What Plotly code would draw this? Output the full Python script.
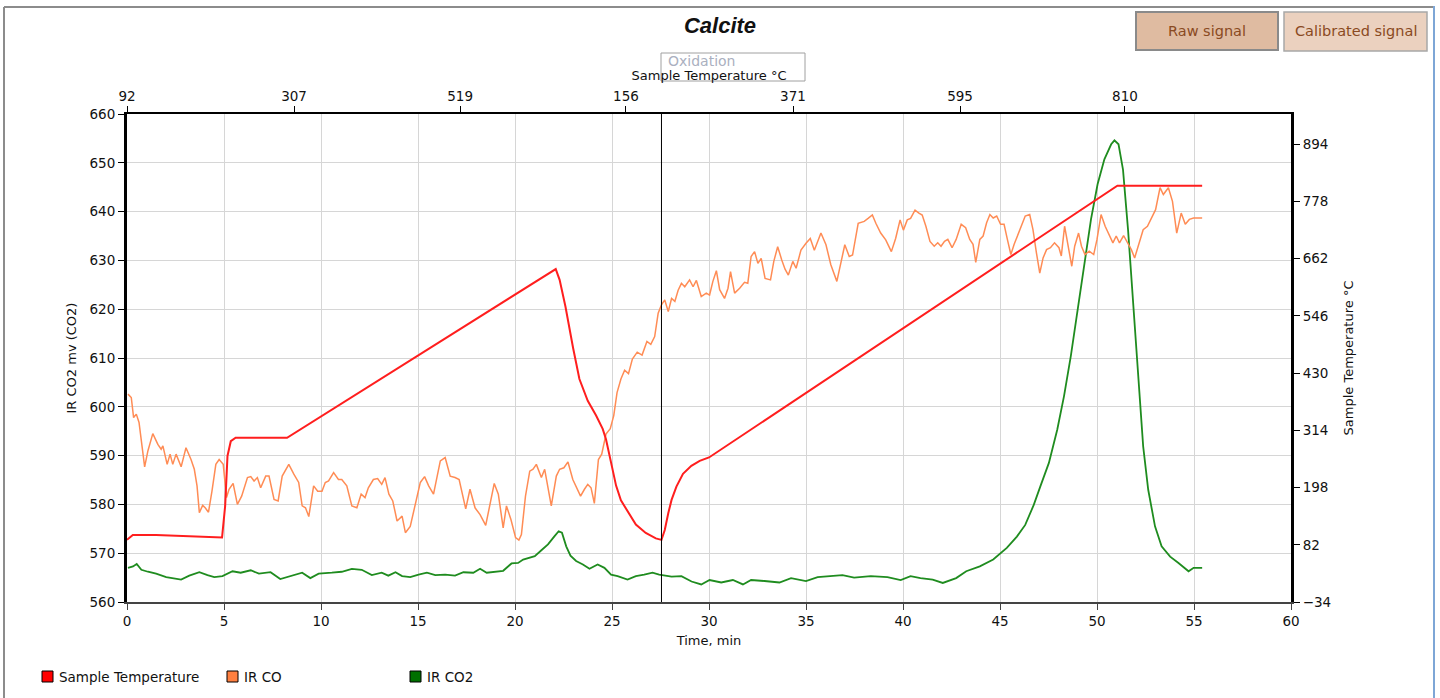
import plotly.graph_objects as go

# ---------------- data ----------------
time_co = [0.05, 0.22, 0.34, 0.48, 0.62, 0.91, 1.08, 1.33, 1.59, 1.76, 1.85, 2.07, 2.22, 2.36, 2.53, 2.79,
           3.04, 3.30, 3.47, 3.61, 3.73, 3.90, 4.03, 4.20, 4.38, 4.58, 4.75, 4.96, 5.13, 5.26, 5.47, 5.69,
           5.91, 6.21, 6.38, 6.55, 6.72, 6.89, 7.15, 7.32, 7.58, 7.79, 8.00, 8.34, 8.60, 8.85, 9.03, 9.20,
           9.37, 9.62, 9.83, 10.05, 10.22, 10.39, 10.65, 10.90, 11.07, 11.33, 11.59, 11.85, 12.07, 12.27,
           12.44, 12.70, 12.92, 13.13, 13.30, 13.50, 13.70, 13.92, 14.18, 14.35, 14.60, 14.86, 15.12, 15.34,
           15.55, 15.80, 16.15, 16.40, 16.66, 16.91, 17.12, 17.46, 17.68, 17.94, 18.20, 18.49, 18.71, 18.93,
           19.14, 19.39, 19.56, 19.79, 20.03, 20.20, 20.33, 20.54, 20.76, 20.93, 21.10, 21.36, 21.53, 21.87,
           22.13, 22.30, 22.52, 22.73, 22.98, 23.20, 23.38, 23.58, 23.75, 23.92, 24.09, 24.30, 24.47, 24.69,
           24.91, 25.09, 25.26, 25.46, 25.65, 25.85, 26.05, 26.30, 26.55, 26.80, 27.00, 27.20, 27.38, 27.55,
           27.72, 27.90, 28.07, 28.24, 28.41, 28.58, 28.75, 29.00, 29.18, 29.35, 29.60, 29.86, 30.03, 30.20,
           30.38, 30.55, 30.80, 30.98, 31.11, 31.32, 31.58, 31.83, 32.00, 32.17, 32.35, 32.52, 32.69, 32.89,
           33.17, 33.34, 33.54, 33.75, 33.92, 34.09, 34.32, 34.49, 34.74, 35.00, 35.22, 35.43, 35.77, 36.03,
           36.28, 36.59, 36.80, 37.00, 37.23, 37.40, 37.69, 38.00, 38.20, 38.42, 38.60, 38.85, 39.11, 39.40,
           39.62, 39.85, 40.02, 40.22, 40.39, 40.62, 40.82, 40.99, 41.18, 41.39, 41.61, 41.79, 41.96, 42.14,
           42.31, 42.53, 42.74, 43.00, 43.23, 43.44, 43.61, 43.75, 43.96, 44.13, 44.31, 44.48, 44.65, 44.83,
           45.03, 45.21, 45.38, 45.56, 45.73, 45.90, 46.13, 46.30, 46.53, 46.70, 46.88, 47.05, 47.22, 47.40,
           47.60, 47.81, 48.04, 48.16, 48.33, 48.51, 48.70, 48.85, 49.05, 49.20, 49.38, 49.60, 49.83, 50.00,
           50.21, 50.42, 50.64, 50.82, 50.99, 51.16, 51.37, 51.60, 51.77, 51.94, 52.15, 52.38, 52.60, 52.81,
           53.02, 53.25, 53.42, 53.68, 53.89, 54.11, 54.34, 54.55, 54.76, 54.98, 55.42]
ir_co = [602.6, 601.9, 597.8, 598.5, 596.8, 587.7, 591.0, 594.5, 592.3, 591.3, 592.0, 588.2, 590.3, 588.2, 590.3, 587.7,
         591.6, 589.2, 587.2, 583.8, 578.3, 579.8, 579.3, 578.4, 582.7, 588.2, 589.2, 588.2, 581.4, 583.1, 584.3, 580.0,
         581.7, 585.5, 585.7, 584.8, 585.5, 583.4, 585.8, 585.8, 581.0, 580.7, 585.8, 588.2, 586.2, 584.5, 579.7, 579.3,
         577.5, 583.8, 582.7, 582.7, 584.5, 584.8, 586.5, 585.1, 585.1, 583.8, 579.7, 579.3, 582.1, 581.4,
         583.4, 585.1, 585.3, 584.1, 585.5, 582.1, 580.7, 576.6, 577.6, 574.2, 575.5, 580.0, 584.5, 585.7,
         583.8, 582.1, 588.9, 589.6, 585.8, 585.5, 585.1, 579.1, 583.1, 579.3, 577.9, 575.7, 580.0, 584.3,
         582.1, 575.2, 579.7, 576.9, 573.2, 572.7, 573.8, 581.7, 586.8, 587.2, 588.2, 585.5, 587.2, 579.7,
         585.8, 587.2, 587.5, 588.7, 585.1, 583.1, 581.7, 583.1, 584.1, 583.4, 580.2, 589.2, 590.3, 594.4,
         595.5, 598.2, 602.9, 605.7, 607.5, 606.8, 609.8, 611.2, 610.6, 613.4, 612.8, 614.4, 619.2, 620.9,
         621.9, 619.5, 622.2, 621.6, 623.9, 625.3, 624.6, 626.0, 624.6, 625.9, 622.6, 623.3, 622.9, 625.7,
         627.9, 624.0, 622.2, 624.3, 627.7, 623.3, 624.3, 625.5, 625.3, 630.8, 631.8, 629.4, 630.4, 626.3,
         626.0, 629.8, 632.8, 630.1, 628.2, 627.0, 629.8, 628.4, 632.1, 633.5, 634.5, 632.1, 635.6, 633.2,
         629.1, 625.7, 629.4, 633.2, 630.8, 631.1, 637.6, 638.0, 638.6, 639.3, 637.6, 635.6, 634.2, 631.8,
         634.5, 638.3, 636.2, 638.3, 638.6, 640.3, 639.7, 639.3, 637.0, 633.9, 632.9, 633.6, 632.9, 633.9,
         634.3, 632.6, 634.3, 637.4, 636.7, 634.3, 633.3, 629.6, 634.3, 635.0, 637.7, 639.4, 638.7, 639.1,
         637.4, 637.4, 634.3, 631.2, 633.3, 635.0, 637.7, 639.1, 639.4, 636.3, 631.5, 627.4, 630.5, 632.2,
         632.6, 633.6, 632.6, 630.9, 637.0, 633.3, 628.8, 632.9, 635.6, 632.9, 631.2, 631.9, 631.2, 634.3,
         639.4, 637.0, 635.0, 633.6, 635.0, 633.6, 635.1, 633.3, 632.2, 630.5, 633.3, 636.3, 637.0, 638.7,
         640.4, 644.9, 643.5, 644.9, 642.1, 635.6, 639.7, 637.4, 638.4, 638.7, 638.7]

time_co2 = [0.05, 0.31, 0.50, 0.74, 1.08, 1.50, 2.02, 2.36, 2.79, 3.21, 3.73, 4.15, 4.50, 4.92, 5.44, 5.86,
            6.38, 6.80, 7.40, 7.90, 8.43, 9.03, 9.45, 9.88, 10.56, 11.07, 11.59, 12.10, 12.62, 13.13, 13.47,
            13.84, 14.18, 14.60, 15.03, 15.46, 15.89, 16.40, 16.91, 17.34, 17.85, 18.20, 18.54, 18.97, 19.39,
            19.82, 20.16, 20.42, 20.68, 21.02, 21.36, 21.70, 22.04, 22.25, 22.42, 22.64, 22.86, 23.15, 23.50,
            23.84, 24.26, 24.61, 24.95, 25.29, 25.80, 26.23, 26.66, 27.09, 27.43, 27.82, 28.07, 28.58, 29.10,
            29.60, 30.03, 30.63, 31.23, 31.75, 32.17, 32.86, 33.63, 34.23, 35.00, 35.60, 36.28, 36.88, 37.48,
            38.34, 39.20, 39.88, 40.39, 40.90, 41.53, 42.05, 42.74, 43.26, 43.96, 44.65, 45.35, 45.87, 46.30,
            46.74, 47.08, 47.52, 47.95, 48.30, 48.65, 48.99, 49.34, 49.69, 50.03, 50.38, 50.73, 50.90, 51.11,
            51.34, 51.60, 51.86, 52.12, 52.38, 52.64, 52.99, 53.33, 53.77, 54.20, 54.72, 54.98, 55.42]
ir_co2 = [567.0, 567.3, 567.8, 566.6, 566.2, 565.8, 565.1, 564.9, 564.6, 565.4, 566.1, 565.5, 565.1, 565.3, 566.3, 566.0,
          566.5, 565.8, 566.1, 564.7, 565.3, 566.0, 564.9, 565.8, 566.0, 566.2, 566.8, 566.6, 565.5, 566.0, 565.4,
          566.1, 565.3, 565.1, 565.6, 566.0, 565.5, 565.6, 565.4, 566.1, 566.0, 566.8, 566.0, 566.2, 566.4,
          567.9, 568.0, 568.7, 569.0, 569.4, 570.6, 571.8, 573.5, 574.5, 574.2, 571.4, 569.5, 568.4, 567.7,
          566.8, 567.7, 567.0, 565.6, 565.3, 564.6, 565.3, 565.6, 566.0, 565.6, 565.3, 565.2, 565.3, 564.2,
          563.6, 564.5, 564.0, 564.5, 563.6, 564.5, 564.3, 564.0, 564.9, 564.3, 565.1, 565.3, 565.5, 565.0,
          565.3, 565.1, 564.5, 565.3, 564.9, 564.6, 563.9, 564.9, 566.3, 567.3, 568.7, 571.1, 573.4, 575.8,
          579.9, 583.7, 588.5, 595.3, 602.2, 610.4, 619.9, 629.5, 638.4, 645.6, 650.7, 653.8, 654.6, 653.8,
          648.6, 636.3, 621.3, 605.6, 591.9, 583.0, 575.5, 571.4, 569.3, 568.0, 566.3, 567.0, 567.0]

time_temp = [0.0, 0.3, 1.5, 3.0, 4.9, 5.06, 5.18, 5.35, 5.6, 8.25, 22.1, 22.3, 22.6, 23.0, 23.32, 23.75,
             24.18, 24.52, 24.69, 24.95, 25.21, 25.46, 25.8, 26.23, 26.74, 27.26, 27.55, 27.72, 27.9, 28.07,
             28.32, 28.66, 29.09, 29.52, 30.0, 51.05, 55.42]
sample_temp = [92, 102, 102, 100, 97, 161, 262, 292, 299, 299, 641, 619, 565, 480, 418, 374,
               344, 317, 296, 249, 202, 172, 150, 123, 106, 95, 92, 112, 146, 173,
               200, 226, 242, 252, 259, 810, 810]

top_tick_times = [0, 8.61, 17.17, 25.72, 34.33, 42.94, 51.44]
top_tick_labels = ["92", "307", "519", "156", "371", "595", "810"]
right_tick_vals = [-34, 82, 198, 314, 430, 546, 662, 778, 894]
oxidation_time = 27.55

legend_names = ["Sample Temperature", "IR CO", "IR CO2"]
legend_colors = ["#ff0000", "#ff8040", "#007000"]

# ---------------- styling ----------------
W, H = 1440, 698
L, R, T, B = 127, 1291, 114, 602
RED, ORANGE, GREEN = "#ff1e1e", "#ff8c55", "#1f8c1f"
GRID = "#d6d6d6"
FONT = "DejaVu Sans"


def px(X):
    return (X - L) / (R - L)


def py(Y):
    return (B - Y) / (B - T)


fig = go.Figure()
fig.add_trace(go.Scatter(x=time_co2, y=ir_co2, mode="lines", name="IR CO2",
                         line=dict(color=GREEN, width=1.8), showlegend=False))
fig.add_trace(go.Scatter(x=time_co, y=ir_co, mode="lines", name="IR CO",
                         line=dict(color=ORANGE, width=1.5), showlegend=False))
fig.add_trace(go.Scatter(x=time_temp, y=sample_temp, mode="lines", name="Sample Temperature",
                         line=dict(color=RED, width=2), yaxis="y2", showlegend=False))
# top axis carrier
fig.add_trace(go.Scatter(x=[None], y=[None], xaxis="x2", yaxis="y", showlegend=False, hoverinfo="skip"))

tickfont = dict(family=FONT, size=13.5, color="#111")

fig.update_layout(
    width=W, height=H,
    margin=dict(l=L, r=W - R, t=T, b=H - B, autoexpand=False),
    paper_bgcolor="white", plot_bgcolor="white",
    font=dict(family=FONT, size=13, color="#111"),
    showlegend=False,
    title=dict(text="<b><i>Calcite</i></b>", x=0.5, xref="container", xanchor="center",
               y=1 - 25 / H, yref="container", yanchor="middle",
               font=dict(family="Liberation Sans", size=22, color="#111")),
    xaxis=dict(range=[0, 60], tick0=0, dtick=5, showgrid=True, gridcolor=GRID, gridwidth=1,
               zeroline=False, showline=True, linecolor="#444", linewidth=2,
               ticks="outside", ticklen=6, tickcolor="#444", tickfont=tickfont,
               title=dict(text="Time, min", font=dict(family=FONT, size=13), standoff=8)),
    xaxis2=dict(range=[0, 60], overlaying="x", side="top", tickmode="array",
                tickvals=top_tick_times, ticktext=top_tick_labels, showgrid=False, zeroline=False,
                showline=True, linecolor="black", linewidth=1.5, ticks="outside", ticklen=6,
                tickcolor="black", tickfont=tickfont,
                title=dict(text="Sample Temperature °C", font=dict(family=FONT, size=13), standoff=4)),
    yaxis=dict(range=[560, 660], tick0=560, dtick=10, showgrid=True, gridcolor=GRID, gridwidth=1,
               zeroline=False, showline=True, linecolor="black", linewidth=3,
               ticks="outside", ticklen=6, tickcolor="black", tickfont=tickfont,
               title=dict(text="IR CO2 mv (CO2)", font=dict(family=FONT, size=13), standoff=10)),
    yaxis2=dict(range=[-34, 955.3], overlaying="y", side="right", tickmode="array",
                tickvals=right_tick_vals, showgrid=False, zeroline=False, showline=True,
                linecolor="black", linewidth=3, ticks="outside", ticklen=6, tickcolor="black",
                tickfont=tickfont,
                title=dict(text="Sample Temperature °C", font=dict(family=FONT, size=13), standoff=14)),
    hovermode=False,
)

shapes = []
annotations = []
# oxidation marker line
shapes.append(dict(type="line", xref="x", yref="paper", x0=oxidation_time, x1=oxidation_time,
                   y0=0, y1=1, line=dict(color="black", width=1)))
# oxidation label box
shapes.append(dict(type="rect", xref="paper", yref="paper", x0=px(661), x1=px(805), y0=py(81), y1=py(53),
                   line=dict(color="#a0a0a0", width=1), fillcolor="rgba(255,255,255,0)", layer="below"))
# buttons
shapes.append(dict(type="rect", xref="paper", yref="paper", x0=px(1136), x1=px(1278), y0=py(50), y1=py(12),
                   line=dict(color="#8a8a8a", width=2), fillcolor="#dfbba1"))
shapes.append(dict(type="rect", xref="paper", yref="paper", x0=px(1284), x1=px(1427), y0=py(51), y1=py(12),
                   line=dict(color="#a8a8a8", width=1.5), fillcolor="#ebd1bf"))
# outer frame
shapes.append(dict(type="line", xref="paper", yref="paper", x0=px(4), x1=px(1433), y0=py(7), y1=py(7),
                   line=dict(color="#8c8c8c", width=2)))
shapes.append(dict(type="line", xref="paper", yref="paper", x0=px(4), x1=px(4), y0=py(7), y1=py(698),
                   line=dict(color="#8c8c8c", width=2)))
shapes.append(dict(type="line", xref="paper", yref="paper", x0=px(1434), x1=px(1434), y0=py(6), y1=py(698),
                   line=dict(color="#7ea6d6", width=2)))

# legend (square swatches + labels)
legend_sq_x = [42, 227, 410]
for nm, col, X0 in zip(legend_names, legend_colors, legend_sq_x):
    shapes.append(dict(type="rect", xref="paper", yref="paper", x0=px(X0), x1=px(X0 + 11),
                       y0=py(682), y1=py(671), fillcolor=col, line=dict(color="black", width=1)))
    annotations.append(dict(text=nm, xref="paper", yref="paper", x=px(X0 + 15), y=py(676.5),
                            xanchor="left", yanchor="middle", showarrow=False,
                            font=dict(family=FONT, size=13.5, color="#111")))

annotations += [
    dict(text="Oxidation", xref="paper", yref="paper", x=px(666), y=py(61), xanchor="left", yanchor="middle",
         showarrow=False, font=dict(family=FONT, size=14, color="#aab0c0")),
    dict(text="Raw signal", xref="paper", yref="paper", x=px(1207), y=py(31), xanchor="center",
         yanchor="middle", showarrow=False, font=dict(family=FONT, size=14.5, color="#8a4a22")),
    dict(text="Calibrated signal", xref="paper", yref="paper", x=px(1355.5), y=py(31), xanchor="center",
         yanchor="middle", showarrow=False, font=dict(family=FONT, size=14.5, color="#8a4a22")),
]
fig.update_layout(shapes=shapes, annotations=annotations)

fig.write_html("out.html", config={"displayModeBar": False},
               post_script="document.body.style.margin='0';document.body.style.overflow='hidden';")
